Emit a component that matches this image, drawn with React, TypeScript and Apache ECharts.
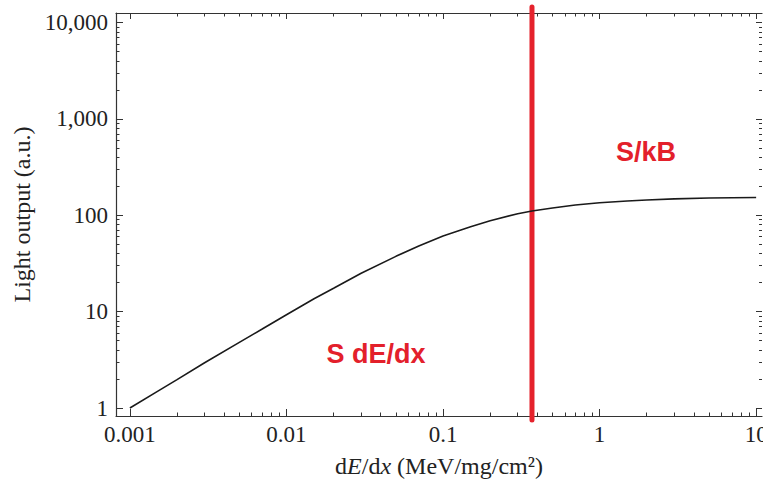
import React, { useEffect, useRef } from "react";
import * as echarts from "echarts";

// Data (log-log plot)
const dEdx = [0.001, 0.0015, 0.002, 0.003, 0.005, 0.007, 0.01, 0.015, 0.02, 0.03, 0.05, 0.07, 0.1, 0.15, 0.2, 0.3, 0.37, 0.5, 0.7, 1, 1.5, 2, 3, 5, 7, 10];
const lightOutput = [1.0, 1.49, 1.97, 2.95, 4.8, 6.6, 9.3, 13.6, 17.5, 25, 37.5, 48, 61, 76, 88, 104, 111, 119, 128, 135, 141, 144, 148, 151, 152, 153];
const boundaryX = [0.37];
const xMajorTicks = [0.001, 0.01, 0.1, 1, 10];
const yMajorTicks = [1, 10, 100, 1000, 10000];
const xRange = [0.000815, 10.9];
const yRange = [0.826, 12580];
const regionLabels = ["S dE/dx", "S/kB"];

const lg = (v: number) => Math.log10(v);

function minorTicks(majors: number[], range: number[]) {
  const out: number[] = [];
  const lo = lg(majors[0]);
  const hi = lg(range[1]);
  for (const m of majors) {
    for (let k = 2; k <= 9; k++) {
      const v = lg(m * k);
      if (v > lo && v <= hi) out.push(v);
    }
  }
  return out;
}

export default function App() {
  const ref = useRef<HTMLDivElement>(null);
  useEffect(() => {
    if (!ref.current) return;
    const chart = echarts.init(ref.current, null, { renderer: "svg" });
    const xMin = lg(xRange[0]);
    const xMax = lg(xRange[1]);
    const yMin = lg(yRange[0]);
    const yMax = lg(yRange[1]);
    const xMaj = xMajorTicks.map(lg);
    const yMaj = yMajorTicks.map(lg);
    const xMin2 = minorTicks(xMajorTicks, xRange);
    const yMin2 = minorTicks(yMajorTicks, yRange);
    const axisColor = "#333";
    const serif = "Liberation Serif";

    const baseX = (position: string, ticks: number[], len: number, showLine: boolean, labels: boolean, extra: any = {}) => ({
      type: "value",
      position,
      min: xMin,
      max: xMax,
      splitLine: { show: false },
      axisLine: { show: showLine, onZero: false, lineStyle: { color: axisColor, width: 1.2 } },
      axisTick: { show: true, inside: true, length: len, customValues: ticks, lineStyle: { color: axisColor, width: 1 } },
      axisLabel: labels
        ? {
            show: true,
            customValues: ticks,
            margin: 7,
            fontFamily: serif,
            fontSize: 23,
            color: "#222",
            hideOverlap: false,
            formatter: (v: number) => String(parseFloat(Math.pow(10, v).toPrecision(3))),
          }
        : { show: false },
      ...extra,
    });
    const baseY = (position: string, ticks: number[], len: number, showLine: boolean, labels: boolean, extra: any = {}) => ({
      type: "value",
      position,
      min: yMin,
      max: yMax,
      splitLine: { show: false },
      axisLine: { show: showLine, onZero: false, lineStyle: { color: axisColor, width: 1.2 } },
      axisTick: { show: true, inside: true, length: len, customValues: ticks, lineStyle: { color: axisColor, width: 1 } },
      axisLabel: labels
        ? {
            show: true,
            customValues: ticks,
            margin: 8,
            fontFamily: serif,
            fontSize: 23,
            color: "#222",
            formatter: (v: number) => Math.round(Math.pow(10, v)).toLocaleString("en-US"),
          }
        : { show: false },
      ...extra,
    });

    chart.setOption({
      animation: false,
      backgroundColor: "#fff",
      grid: { left: 116, right: 1, top: 13, bottom: 65, containLabel: false, outerBoundsMode: "none" },
      xAxis: [
        baseX("bottom", xMaj, 7, true, true, {
          name: "{n|d}{i|E}{n|/d}{i|x}{n| (MeV/mg/cm²)}",
          nameLocation: "middle",
          nameGap: 38,
          nameTextStyle: {
            rich: {
              n: { fontFamily: serif, fontSize: 24, color: "#222" },
              i: { fontFamily: serif, fontSize: 24, fontStyle: "italic", color: "#222" },
            },
          },
        }),
        baseX("bottom", xMin2, 3.5, false, false),
        baseX("top", xMaj, 6, true, false),
        baseX("top", xMin2, 3.5, false, false),
      ],
      yAxis: [
        baseY("left", yMaj, 7, true, true, {
          name: "Light output (a.u.)",
          nameLocation: "middle",
          nameGap: 82,
          nameTextStyle: { fontFamily: serif, fontSize: 24, color: "#222" },
        }),
        baseY("left", yMin2, 3.5, false, false),
        baseY("right", yMaj, 6, false, false),
        baseY("right", yMin2, 3, false, false),
      ],
      series: [
        {
          type: "line",
          xAxisIndex: 0,
          yAxisIndex: 0,
          data: dEdx.map((x, i) => [lg(x), lg(lightOutput[i])]),
          showSymbol: false,
          smooth: false,
          lineStyle: { color: "#1a1a1a", width: 1.6 },
          silent: true,
        },
        {
          type: "custom",
          xAxisIndex: 0,
          yAxisIndex: 0,
          clip: false,
          data: boundaryX.map((x) => [lg(x), 0]),
          renderItem: (_params: any, api: any) => {
            const x = api.value(0);
            const top = api.coord([x, yMax]);
            const bot = api.coord([x, yMin]);
            return {
              type: "line",
              shape: { x1: top[0], y1: top[1] - 6, x2: bot[0], y2: bot[1] + 4 },
              style: { stroke: "#e5222c", lineWidth: 5, lineCap: "round" },
            };
          },
        },
      ],
      graphic: [
        {
          type: "text",
          x: 376,
          y: 354,
          style: {
            text: regionLabels[0],
            fill: "#e3202b",
            font: "bold 27px 'Liberation Sans', Arial, sans-serif",
            textAlign: "center",
            textVerticalAlign: "middle",
          },
        },
        {
          type: "text",
          x: 646,
          y: 152,
          style: {
            text: regionLabels[1],
            fill: "#e3202b",
            font: "bold 27px 'Liberation Sans', Arial, sans-serif",
            textAlign: "center",
            textVerticalAlign: "middle",
          },
        },
      ],
    });
    return () => chart.dispose();
  }, []);
  return (
    <div
      ref={ref}
      style={{ position: "fixed", left: 0, top: 0, width: 763, height: 481, background: "#fff" }}
    />
  );
}
